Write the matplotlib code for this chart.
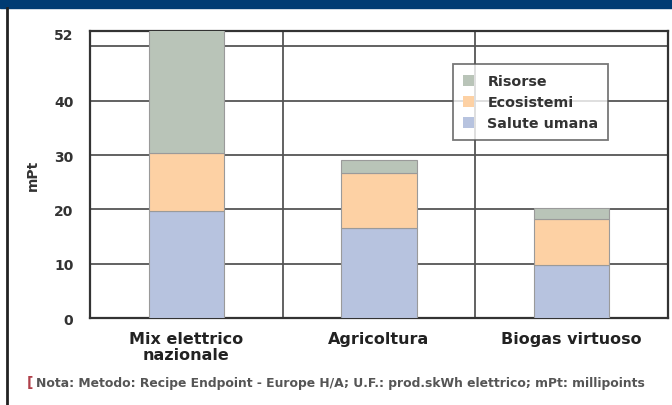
import matplotlib.pyplot as plt
import numpy as np
from matplotlib.patches import Rectangle

categories = ['Mix elettrico\nnazionale', 'Agricoltura', 'Biogas virtuoso']
salute = [19.7, 16.5, 9.8]
ecosistemi = [10.6, 10.2, 8.5]
risorse = [23.0, 2.3, 2.0]

series = ['Salute umana', 'Ecosistemi', 'Risorse']
colors = ['#b7c3df', '#fdd1a4', '#b9c4b8']

plt.rcParams['font.family'] = ['Liberation Sans Narrow', 'DejaVu Sans']

fig = plt.figure(figsize=(6.72, 4.06), dpi=100)
ax = fig.add_axes([0.134, 0.214, 0.86, 0.707])

x = np.arange(len(categories))
bottom = np.zeros(len(categories))
handles = []
for name, vals, col in zip(series, [salute, ecosistemi, risorse], colors):
    b = ax.bar(x, vals, width=0.39, bottom=bottom, color=col,
               edgecolor='#9a9a9a', linewidth=0.8, label=name, zorder=3)
    handles.append(b)
    bottom += np.array(vals)

ax.set_xlim(-0.5, 2.5)
ax.set_ylim(0, 52.8)
ax.set_yticks([0, 10, 20, 30, 40, 52.3])
ax.set_yticklabels(['0', '10', '20', '30', '40', '52'], fontsize=10, fontweight='bold', color='#333333')
for yv in [10, 20, 30, 40, 50]:
    ax.axhline(yv, color='#555555', linewidth=1.3, zorder=1)
for xv in [0.5, 1.5]:
    ax.axvline(xv, color='#555555', linewidth=1.3, zorder=1)
ax.set_xticks(x)
ax.set_xticklabels(categories, fontsize=11.5, fontweight='bold', color='#222222', linespacing=1.1)
ax.tick_params(length=0, pad=9)
ax.tick_params(axis='y', pad=12)
for s in ax.spines.values():
    s.set_color('#333333')
    s.set_linewidth(1.6)
ax.set_ylabel('mPt', fontsize=10, fontweight='bold', color='#333333', labelpad=10)

leg = ax.legend(handles[::-1], series[::-1], loc='upper left', bbox_to_anchor=(0.628, 0.885),
                fontsize=10.3, frameon=True, fancybox=False, handlelength=0.8, handleheight=0.8,
                handletextpad=0.9, borderpad=0.7, labelspacing=0.5, borderaxespad=0)
leg.get_frame().set_edgecolor('#555555')
leg.get_frame().set_linewidth(1.3)
for t in leg.get_texts():
    t.set_fontweight('bold')
    t.set_color('#333333')
for h in leg.legend_handles:
    h.set_edgecolor('none')

# header band and left border
fig.patches.append(Rectangle((0, 0.977), 1, 0.023, transform=fig.transFigure, color='#003b73', zorder=0))
fig.add_artist(plt.Line2D([0.01, 0.01], [0, 0.977], transform=fig.transFigure, color='#222222', linewidth=2))

fig.text(0.04, 0.056, '[', fontsize=10, color='#b0404a', fontweight='bold', va='center')
fig.text(0.053, 0.056, 'Nota: Metodo: Recipe Endpoint - Europe H/A; U.F.: prod.skWh elettrico; mPt: millipoints',
         fontsize=8.9, color='#555555', va='center', fontweight='bold')

fig.savefig('out.png', dpi=100)
